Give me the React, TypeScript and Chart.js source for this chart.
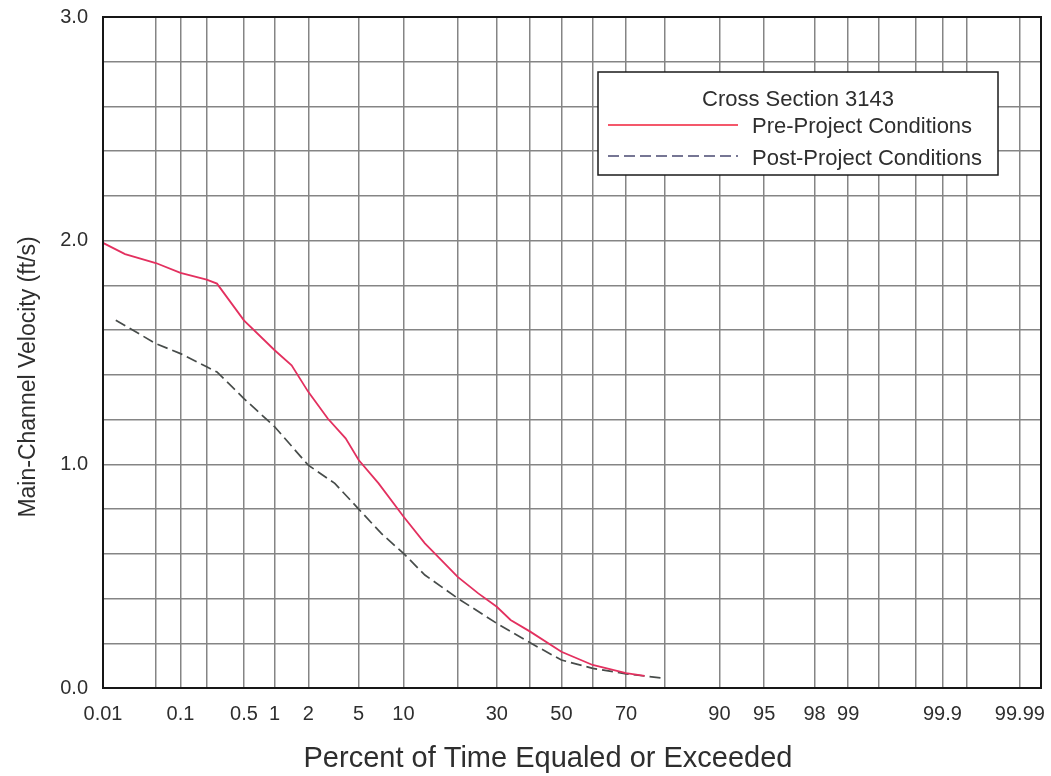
import React, { useEffect, useRef } from 'react';
import { Chart, registerables, Scale } from 'chart.js';

// ---------------- data ----------------
const X_MIN = 0.01;
const X_MAX = 99.995;
const X_GRID = [0.01, 0.05, 0.1, 0.2, 0.5, 1, 2, 5, 10, 20, 30, 40, 50, 60, 70, 80, 90, 95, 98, 99, 99.5, 99.8, 99.9, 99.95, 99.99, 99.995];
const X_LABELS = [0.01, 0.1, 0.5, 1, 2, 5, 10, 30, 50, 70, 90, 95, 98, 99, 99.9, 99.99];

const Y_MIN = 0;
const Y_MAX = 3;
const Y_STEP = 0.2;

const PRE_PCT = [0.01, 0.02, 0.05, 0.1, 0.2, 0.26, 0.5, 1, 1.43, 2, 2.9, 4, 5, 6.9, 10, 13.4, 16.5, 20, 25, 30, 34, 40, 50, 60, 70, 75];
const PRE_VEL = [1.99, 1.94, 1.9, 1.856, 1.826, 1.808, 1.644, 1.51, 1.443, 1.324, 1.205, 1.116, 1.019, 0.915, 0.767, 0.647, 0.572, 0.497, 0.423, 0.363, 0.304, 0.252, 0.162, 0.103, 0.066, 0.054];

const POST_PCT = [0.015, 0.05, 0.1, 0.2, 0.26, 0.5, 1, 2, 3.3, 5, 7.2, 10, 13.4, 20, 30, 40, 50, 60, 70, 80];
const POST_VEL = [1.644, 1.54, 1.495, 1.436, 1.413, 1.294, 1.168, 0.996, 0.915, 0.8, 0.691, 0.602, 0.505, 0.401, 0.289, 0.202, 0.125, 0.088, 0.063, 0.043];

const LEGEND_TITLE = 'Cross Section 3143';
const SERIES_LABELS = ['Pre-Project Conditions', 'Post-Project Conditions'];
const X_TITLE = 'Percent of Time Equaled or Exceeded';
const Y_TITLE = 'Main-Channel Velocity (ft/s)';

const FONT = "'Liberation Sans', Arial, Helvetica, sans-serif";
const TEXT = '#2e2e2e';

// ---------------- probability math ----------------
function probit(p: number): number {
  const a = [-3.969683028665376e1, 2.209460984245205e2, -2.759285104469687e2, 1.38357751867269e2, -3.066479806614716e1, 2.506628277459239];
  const b = [-5.447609879822406e1, 1.615858368580409e2, -1.556989798598866e2, 6.680131188771972e1, -1.328068155288572e1];
  const c = [-7.784894002430293e-3, -3.223964580411365e-1, -2.400758277161838, -2.549671010243209, 4.374664141464968, 2.938163982698783];
  const d = [7.784695709041462e-3, 3.224671290700398e-1, 2.445134137142996, 3.754408661907416];
  const plow = 0.02425;
  if (p < plow) {
    const q = Math.sqrt(-2 * Math.log(p));
    return (((((c[0] * q + c[1]) * q + c[2]) * q + c[3]) * q + c[4]) * q + c[5]) / ((((d[0] * q + d[1]) * q + d[2]) * q + d[3]) * q + 1);
  }
  if (p <= 1 - plow) {
    const q = p - 0.5;
    const r = q * q;
    return ((((((a[0] * r + a[1]) * r + a[2]) * r + a[3]) * r + a[4]) * r + a[5]) * q) / (((((b[0] * r + b[1]) * r + b[2]) * r + b[3]) * r + b[4]) * r + 1);
  }
  const q = Math.sqrt(-2 * Math.log(1 - p));
  return -(((((c[0] * q + c[1]) * q + c[2]) * q + c[3]) * q + c[4]) * q + c[5]) / ((((d[0] * q + d[1]) * q + d[2]) * q + d[3]) * q + 1);
}

function normCdf(z: number): number {
  let lo = 1e-9, hi = 1 - 1e-9;
  for (let i = 0; i < 80; i++) {
    const mid = (lo + hi) / 2;
    if (probit(mid) < z) lo = mid; else hi = mid;
  }
  return (lo + hi) / 2;
}

// ---------------- custom probability scale ----------------
class ProbabilityScale extends Scale {
  static id = 'probability';
  static defaults = {};
  _zmin: number = -3;
  _zmax: number = 3;

  determineDataLimits() {
    const opts: any = this.options;
    this.min = opts.min ?? X_MIN;
    this.max = opts.max ?? X_MAX;
  }
  buildTicks() {
    return X_GRID.map((v) => ({ value: v }));
  }
  configure() {
    super.configure();
    this._zmin = probit(this.min / 100);
    this._zmax = probit(this.max / 100);
  }
  getLabelForValue(v: number) {
    return String(v);
  }
  getPixelForValue(v: number) {
    if (v === null || v === undefined || isNaN(v)) return NaN;
    const z = probit(v / 100);
    return this.getPixelForDecimal((z - this._zmin) / (this._zmax - this._zmin));
  }
  getValueForPixel(px: number) {
    const dec = this.getDecimalForPixel(px);
    return 100 * normCdf(this._zmin + dec * (this._zmax - this._zmin));
  }
}

Chart.register(...registerables, ProbabilityScale as any);

const noEdgePadding = (s: any) => {
  s.paddingTop = 0;
  s.paddingBottom = 0;
  s.paddingLeft = 0;
  s.paddingRight = 0;
};

// ---------------- plugins ----------------
const framePlugin = {
  id: 'frameAndTitles',
  afterDatasetsDraw(chart: any) {
    const ctx = chart.ctx;
    const { left, top, right, bottom } = chart.chartArea;
    ctx.save();
    ctx.strokeStyle = '#161616';
    ctx.lineWidth = 2;
    ctx.strokeRect(left, top, right - left, bottom - top);

    // axis titles
    ctx.fillStyle = TEXT;
    ctx.textAlign = 'center';
    ctx.textBaseline = 'alphabetic';
    ctx.font = `29px ${FONT}`;
    ctx.fillText(X_TITLE, 548, 767);

    ctx.save();
    ctx.translate(35, 377);
    ctx.rotate(-Math.PI / 2);
    ctx.font = `23px ${FONT}`;
    ctx.fillText(Y_TITLE, 0, 0);
    ctx.restore();

    // legend box
    const bx = 598, by = 72, bw = 400, bh = 103;
    ctx.fillStyle = '#ffffff';
    ctx.fillRect(bx, by, bw, bh);
    ctx.strokeStyle = '#1a1a1a';
    ctx.lineWidth = 1.5;
    ctx.strokeRect(bx, by, bw, bh);

    ctx.fillStyle = TEXT;
    ctx.font = `22px ${FONT}`;
    ctx.textAlign = 'center';
    ctx.fillText(LEGEND_TITLE, 798, 105.5);

    const rows = [
      { y: 125, base: 133 },
      { y: 156, base: 164.5 },
    ];
    chart.data.datasets.forEach((ds: any, i: number) => {
      const r = rows[i];
      if (!r) return;
      ctx.save();
      ctx.strokeStyle = i === 0 ? '#f0203a' : '#4a4a72';
      ctx.lineWidth = 1.5;
      ctx.setLineDash(ds.borderDash || []);
      ctx.beginPath();
      ctx.moveTo(608, r.y);
      ctx.lineTo(738, r.y);
      ctx.stroke();
      ctx.restore();
      ctx.fillStyle = TEXT;
      ctx.textAlign = 'left';
      ctx.font = `22px ${FONT}`;
      ctx.fillText(ds.label, 752, r.base);
    });
    ctx.restore();
  },
};

export default function App() {
  const ref = useRef<HTMLCanvasElement | null>(null);

  useEffect(() => {
    if (!ref.current) return;
    const chart = new Chart(ref.current, {
      type: 'line',
      data: {
        datasets: [
          {
            label: SERIES_LABELS[0],
            data: PRE_PCT.map((x, i) => ({ x, y: PRE_VEL[i] })),
            borderColor: '#e3305f',
            borderWidth: 1.8,
            pointRadius: 0,
            tension: 0,
            fill: false,
          },
          {
            label: SERIES_LABELS[1],
            data: POST_PCT.map((x, i) => ({ x, y: POST_VEL[i] })),
            borderColor: '#474c4a',
            borderWidth: 1.7,
            borderDash: [11, 5],
            pointRadius: 0,
            tension: 0,
            fill: false,
          },
        ],
      },
      options: {
        responsive: false,
        animation: false,
        layout: { padding: { top: 17, right: 10, left: 0, bottom: 0 } },
        plugins: { legend: { display: false }, tooltip: { enabled: false } },
        scales: {
          x: {
            type: 'probability' as any,
            min: X_MIN,
            max: X_MAX,
            border: { display: false },
            grid: { color: '#858585', lineWidth: 1.5, drawTicks: false },
            ticks: {
              autoSkip: false,
              maxRotation: 0,
              minRotation: 0,
              padding: 14,
              color: TEXT,
              font: { family: FONT, size: 20 },
              callback: (v: any) => (X_LABELS.includes(Number(v)) ? String(v) : ''),
            },
            afterFit: (s: any) => {
              s.height = 88;
              noEdgePadding(s);
            },
          } as any,
          y: {
            type: 'linear',
            min: Y_MIN,
            max: Y_MAX,
            border: { display: false },
            grid: { color: '#858585', lineWidth: 1.5, drawTicks: false },
            ticks: {
              stepSize: Y_STEP,
              padding: 15,
              color: TEXT,
              font: { family: FONT, size: 20 },
              callback: (v: any) => {
                const n = Number(v);
                return Math.abs(n - Math.round(n)) < 1e-6 ? n.toFixed(1) : '';
              },
            },
            afterFit: (s: any) => {
              s.width = 103;
              noEdgePadding(s);
            },
          },
        },
      },
      plugins: [framePlugin],
    });
    return () => chart.destroy();
  }, []);

  return (
    <div style={{ position: 'fixed', left: 0, top: 0, width: 1051, height: 776, background: '#fff' }}>
      <canvas ref={ref} width={1051} height={776} style={{ display: 'block' }} />
    </div>
  );
}
